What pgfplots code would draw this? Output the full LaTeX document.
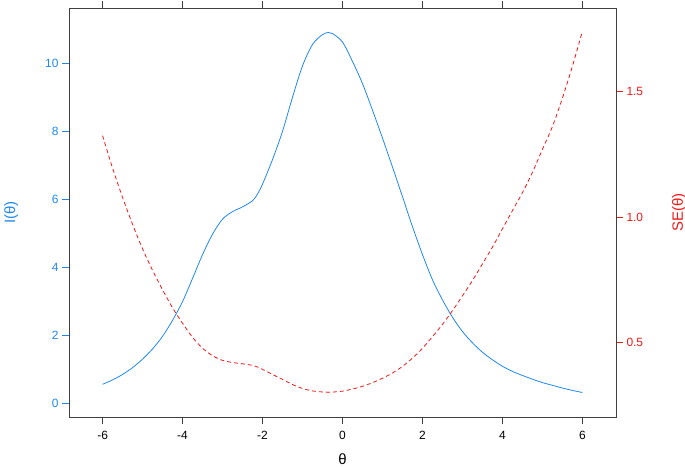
\documentclass[border=0pt]{standalone}
\usepackage{pgfplots}
\pgfplotsset{compat=1.18}
\usepackage{fontspec}
\setmainfont{Liberation Sans}
\definecolor{iblue}{HTML}{1F88F0}
\definecolor{sered}{HTML}{F01818}
\definecolor{boxc}{HTML}{404040}
\begin{document}
\begin{tikzpicture}
\pgfplotsset{
  common/.style={
    scale only axis, width=547bp, height=409bp,
    xmin=-6.84, xmax=6.84,
    /pgf/number format/assume math mode=true,
    tick align=outside, major tick length=7bp,
    tick label style={font=\fontsize{12}{14}\selectfont},
    label style={font=\fontsize{15}{18}\selectfont},
    axis line style={boxc, line width=0.8pt},
    every tick/.style={boxc, line width=0.8pt},
  }
}
\begin{axis}[common, name=a1,
  ymin=-0.39, ymax=11.62,
  xtick={-6,-4,...,6},
  xtick pos=both, xticklabel pos=bottom,
  xticklabel style={yshift=-4bp},
  ytick={0,2,...,10}, ytick pos=left,
  yticklabel style={text=iblue},
  every y tick/.style={iblue, line width=0.8pt},
  xlabel={θ}, ylabel={I(θ)},
  xlabel shift=7bp, ylabel shift=20bp,
  ylabel style={text=iblue},
]
\addplot[iblue, line width=0.8pt, smooth] coordinates {
(-6,0.57) (-5.75,0.70) (-5.5,0.86) (-5.25,1.06) (-5,1.31) (-4.75,1.61) (-4.5,1.98)
(-4.25,2.45) (-4,3.0) (-3.75,3.68) (-3.5,4.38) (-3.25,4.98) (-3,5.42)
(-2.75,5.64) (-2.5,5.78) (-2.25,5.96) (-2.125,6.16) (-2,6.45) (-1.75,7.17) (-1.5,8.0)
(-1.25,9.0) (-1,9.92) (-0.75,10.55) (-0.5,10.84) (-0.35,10.9) (-0.25,10.87)
(0,10.62) (0.25,10.05) (0.5,9.4) (0.75,8.62) (1,7.8) (1.25,6.95) (1.5,6.08)
(1.75,5.2) (2,4.38) (2.25,3.64) (2.5,3.05) (2.75,2.54) (3,2.12) (3.25,1.79) (3.5,1.51)
(3.75,1.29) (4,1.10) (4.25,0.95) (4.5,0.83) (4.75,0.72) (5,0.62) (5.25,0.54) (5.5,0.46) (5.75,0.39) (6,0.33)
};
\end{axis}
\begin{axis}[common,
  ymin=0.204, ymax=1.833,
  axis x line=none, axis y line*=right,
  ytick={0.5,1,1.5},
  yticklabels={0.5,1.0,1.5},
  yticklabel style={text=sered},
  every y tick/.style={sered, line width=0.8pt},
  ylabel={SE(θ)}, ylabel shift=22bp,
  ylabel style={text=sered},
]
\addplot[sered, line width=0.8pt, dash pattern=on 4pt off 3pt, smooth] coordinates {
(-6,1.3245) (-5.75,1.1952) (-5.5,1.0783) (-5.25,0.9713) (-5,0.8737) (-4.75,0.7881) (-4.5,0.7107)
(-4.25,0.6389) (-4,0.5774) (-3.75,0.5213) (-3.5,0.4778) (-3.25,0.4481) (-3,0.4295)
(-2.75,0.4211) (-2.5,0.4159) (-2.25,0.4096) (-2.125,0.4029) (-2,0.3938) (-1.75,0.3735) (-1.5,0.3536)
(-1.25,0.3333) (-1,0.3175) (-0.75,0.3079) (-0.5,0.3037) (-0.35,0.3029) (-0.25,0.3033)
(0,0.3069) (0.25,0.3154) (0.5,0.3262) (0.75,0.3406) (1,0.3581) (1.25,0.3793) (1.5,0.4056)
(1.75,0.4385) (2,0.4778) (2.25,0.5241) (2.5,0.5726) (2.75,0.6275) (3,0.6868) (3.25,0.7474) (3.5,0.8138)
(3.75,0.8805) (4,0.9535) (4.25,1.0260) (4.5,1.0976) (4.75,1.1785) (5,1.2700) (5.25,1.3608) (5.5,1.4744) (5.75,1.6013) (6,1.7408)
};
\end{axis}
\pgfresetboundingbox
\path (a1.south west) ++(-69bp,-50bp) coordinate (bl);
\path (a1.north east) ++(69bp,8bp) coordinate (tr);
\path[use as bounding box] (bl) rectangle (tr);
\end{tikzpicture}
\end{document}
